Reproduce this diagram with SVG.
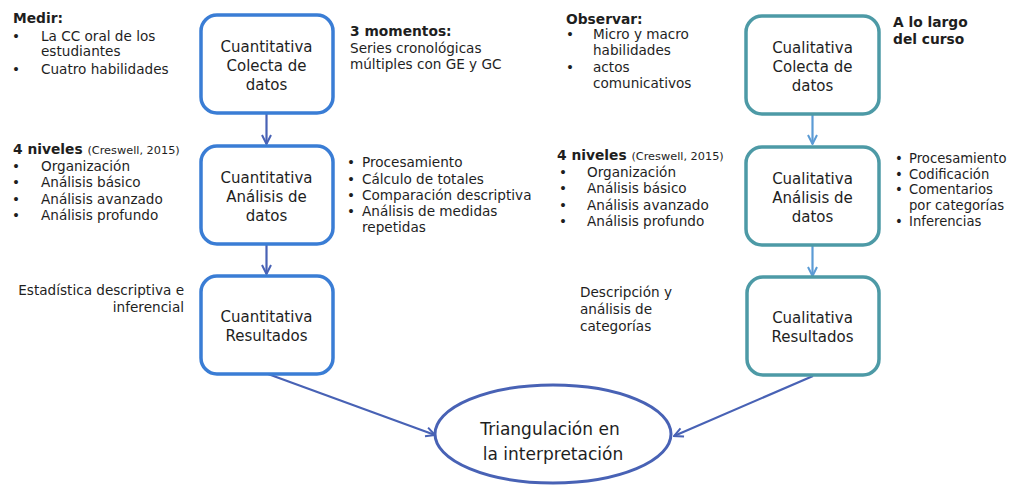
<svg xmlns="http://www.w3.org/2000/svg" width="1010" height="485" viewBox="0 0 1010 485">
<style>
text{font-family:"DejaVu Sans","Verdana",sans-serif;fill:#1e1e1e}
.box{fill:#fff;stroke-width:3.5}
.q{stroke:#3a7dd5}
.c{stroke:#4d9aa6}
.bt{font-size:15px;text-anchor:middle}
.an{font-size:13.6px}
.an2{font-size:13.2px}
.b{font-weight:bold;font-size:13.8px}
.sm{font-size:11.3px;font-weight:normal}
.con{fill:none;stroke-width:2.2}
.dk{stroke:#4862b5}
.lt{stroke:#5b9bd5}
</style>
<defs>
<marker id="ahd" viewBox="0 0 12 12" refX="11" refY="6" markerWidth="12" markerHeight="12" markerUnits="userSpaceOnUse" orient="auto">
<path d="M2,1.5 L11,6 L2,10.5" fill="none" stroke="#4862b5" stroke-width="2"/>
</marker>
<marker id="ahl" viewBox="0 0 12 12" refX="11" refY="6" markerWidth="12" markerHeight="12" markerUnits="userSpaceOnUse" orient="auto">
<path d="M2,1.5 L11,6 L2,10.5" fill="none" stroke="#5b9bd5" stroke-width="2"/>
</marker>
</defs>
<rect width="1010" height="485" fill="#fff"/>

<g id="connectors">
<line class="con dk" x1="266.5" y1="113" x2="266.5" y2="144" marker-end="url(#ahd)"/>
<line class="con dk" x1="266.5" y1="244" x2="266.5" y2="274" marker-end="url(#ahd)"/>
<line class="con lt" x1="812.5" y1="114" x2="812.5" y2="144" marker-end="url(#ahl)"/>
<line class="con lt" x1="812.5" y1="246" x2="812.5" y2="276" marker-end="url(#ahl)"/>
<line class="con dk" x1="268" y1="374" x2="435" y2="435" marker-end="url(#ahd)"/>
<line class="con dk" x1="813" y1="376" x2="674" y2="436" marker-end="url(#ahd)"/>
</g>

<g id="q1">
<rect class="box q" x="201" y="15" width="132" height="98" rx="16"/>
<text class="bt" x="266.5" y="52">Cuantitativa</text>
<text class="bt" x="266.5" y="71">Colecta de</text>
<text class="bt" x="266.5" y="90">datos</text>
</g>
<g id="q2">
<rect class="box q" x="201" y="146" width="132" height="98" rx="16"/>
<text class="bt" x="266.5" y="183">Cuantitativa</text>
<text class="bt" x="266.5" y="202">Análisis de</text>
<text class="bt" x="266.5" y="221">datos</text>
</g>
<g id="q3">
<rect class="box q" x="201" y="276" width="132" height="98" rx="16"/>
<text class="bt" x="266.5" y="322">Cuantitativa</text>
<text class="bt" x="266.5" y="341">Resultados</text>
</g>

<g id="c1">
<rect class="box c" x="746" y="16" width="133" height="98" rx="16"/>
<text class="bt" x="812.5" y="53">Cualitativa</text>
<text class="bt" x="812.5" y="72">Colecta de</text>
<text class="bt" x="812.5" y="91">datos</text>
</g>
<g id="c2">
<rect class="box c" x="746" y="147" width="133" height="98" rx="16"/>
<text class="bt" x="812.5" y="184">Cualitativa</text>
<text class="bt" x="812.5" y="203">Análisis de</text>
<text class="bt" x="812.5" y="222">datos</text>
</g>
<g id="c3">
<rect class="box c" x="747" y="277" width="132" height="98" rx="16"/>
<text class="bt" x="812.5" y="323">Cualitativa</text>
<text class="bt" x="812.5" y="342">Resultados</text>
</g>

<g id="triangulacion">
<ellipse cx="553" cy="434" rx="118" ry="49" fill="#fff" stroke="#4862b5" stroke-width="3"/>
<text x="550" y="435" font-size="17" text-anchor="middle">Triangulación en</text>
<text x="553" y="460" font-size="17" text-anchor="middle">la interpretación</text>
</g>

<g id="medir">
<text class="b" x="13" y="23">Medir:</text>
<text class="an" x="12" y="41">•</text>
<text class="an" x="41" y="41">La CC oral de los</text>
<text class="an" x="41" y="56">estudiantes</text>
<text class="an" x="12" y="74">•</text>
<text class="an" x="41" y="74">Cuatro habilidades</text>
</g>

<g id="momentos">
<text class="b" x="350" y="36">3 momentos:</text>
<text class="an" x="350" y="53">Series cronológicas</text>
<text class="an" x="350" y="69">múltiples con GE y GC</text>
</g>

<g id="observar">
<text class="b" x="566" y="24">Observar:</text>
<text class="an" x="566" y="39">•</text>
<text class="an" x="593" y="39">Micro y macro</text>
<text class="an" x="593" y="55">habilidades</text>
<text class="an" x="566" y="72">•</text>
<text class="an" x="593" y="72">actos</text>
<text class="an" x="593" y="88">comunicativos</text>
</g>

<g id="alolargo">
<text class="b" x="893" y="27">A lo largo</text>
<text class="b" x="893" y="44">del curso</text>
</g>

<g id="niveles-q">
<text class="b" x="13" y="154">4 niveles <tspan class="sm">(Creswell, 2015)</tspan></text>
<text class="an" x="12" y="171">•</text>
<text class="an" x="41" y="171">Organización</text>
<text class="an" x="12" y="187">•</text>
<text class="an" x="41" y="187">Análisis básico</text>
<text class="an" x="12" y="204">•</text>
<text class="an" x="41" y="204">Análisis avanzado</text>
<text class="an" x="12" y="220">•</text>
<text class="an" x="41" y="220">Análisis profundo</text>
</g>

<g id="proc-q">
<text class="an" x="347" y="167">•</text>
<text class="an" x="362" y="167">Procesamiento</text>
<text class="an" x="347" y="184">•</text>
<text class="an" x="362" y="184">Cálculo de totales</text>
<text class="an" x="347" y="200">•</text>
<text class="an" x="362" y="200">Comparación descriptiva</text>
<text class="an" x="347" y="216">•</text>
<text class="an" x="362" y="216">Análisis de medidas</text>
<text class="an" x="362" y="232">repetidas</text>
</g>

<g id="niveles-c">
<text class="b" x="557" y="160">4 niveles <tspan class="sm">(Creswell, 2015)</tspan></text>
<text class="an" x="559" y="177">•</text>
<text class="an" x="587" y="177">Organización</text>
<text class="an" x="559" y="193">•</text>
<text class="an" x="587" y="193">Análisis básico</text>
<text class="an" x="559" y="210">•</text>
<text class="an" x="587" y="210">Análisis avanzado</text>
<text class="an" x="559" y="226">•</text>
<text class="an" x="587" y="226">Análisis profundo</text>
</g>

<g id="proc-c">
<text class="an2" x="895" y="163">•</text>
<text class="an2" x="909" y="163">Procesamiento</text>
<text class="an2" x="895" y="179">•</text>
<text class="an2" x="909" y="179">Codificación</text>
<text class="an2" x="895" y="194">•</text>
<text class="an2" x="909" y="194">Comentarios</text>
<text class="an2" x="909" y="210">por categorías</text>
<text class="an2" x="895" y="226">•</text>
<text class="an2" x="909" y="226">Inferencias</text>
</g>

<g id="estadistica">
<text class="an" x="184" y="295" text-anchor="end">Estadística descriptiva e</text>
<text class="an" x="184" y="312" text-anchor="end">inferencial</text>
</g>

<g id="descripcion">
<text class="an" x="580" y="297">Descripción y</text>
<text class="an" x="580" y="314">análisis de</text>
<text class="an" x="580" y="331">categorías</text>
</g>
</svg>
